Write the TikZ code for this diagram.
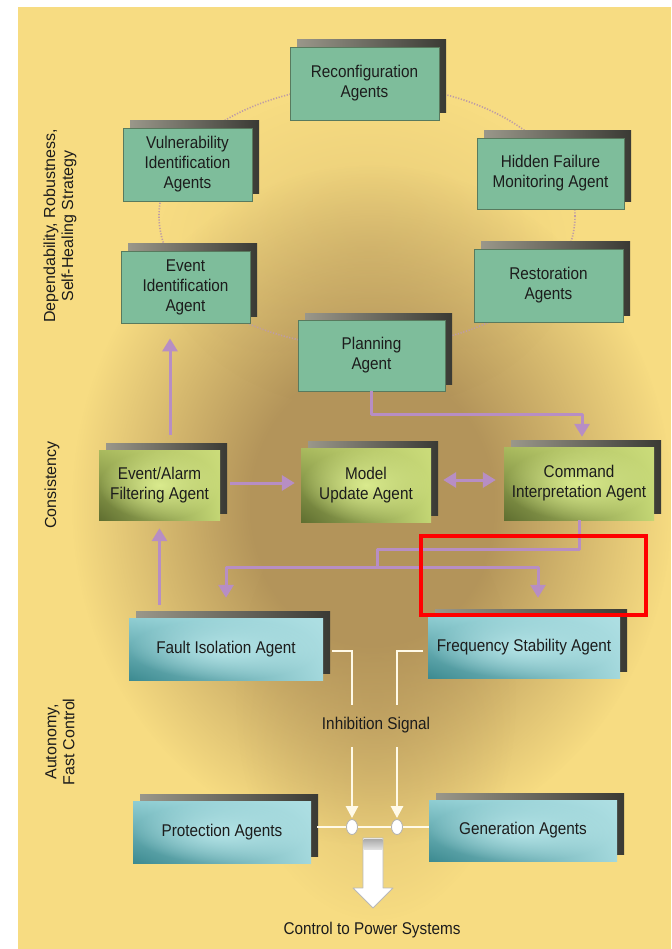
\documentclass[tikz,border=0pt]{standalone}
\usepackage{fontspec}
\setmainfont{Liberation Sans}
\newfontfamily\boxfont{Liberation Sans}[FakeStretch=0.9]
\usetikzlibrary{arrows.meta,calc,shadows,shadings,fadings,shapes.geometric}

\tikzfading[name=glowfade, inner color=transparent!0, outer color=transparent!100]
% radial fading with an opaque core that fades out towards the rim
\pgfdeclareradialshading{plateaushade}{\pgfpoint{0bp}{0bp}}{%
  color(0bp)=(white); color(10bp)=(white); color(25bp)=(black); color(50bp)=(black)}
\pgfdeclarefading{plateau}{\pgfuseshading{plateaushade}}

\definecolor{bglight}{HTML}{F7DC82}
\definecolor{bgdark}{HTML}{B3945A}
\definecolor{tealfill}{HTML}{7EBD9B}
\definecolor{tealedge}{HTML}{587A5E}
\definecolor{limeUL}{HTML}{A9BA5E}
\definecolor{limeUR}{HTML}{CBDC7A}
\definecolor{limeLL}{HTML}{5F6E30}
\definecolor{limeLR}{HTML}{C3D674}
\definecolor{limeglow}{HTML}{DAEB8E}
\definecolor{cyanUL}{HTML}{8FCDD2}
\definecolor{cyanUR}{HTML}{AEDFE3}
\definecolor{cyanLL}{HTML}{3C8A90}
\definecolor{cyanLR}{HTML}{A3D8DC}
\definecolor{cyanglow}{HTML}{B5E4E7}
\definecolor{shadeL}{HTML}{9A978A}
\definecolor{shadeR}{HTML}{3A3A34}
\definecolor{lilac}{HTML}{B78EC4}
\definecolor{ringdot}{HTML}{BE9CA6}
\definecolor{wire}{HTML}{FFFAE8}
\definecolor{txt}{HTML}{1C1C1C}

\tikzset{
  agent/.style={inner sep=0pt, align=center, text=txt,
    font=\boxfont\fontsize{17}{20}\selectfont},
  backshadow/.style={general shadow={shadow xshift=7pt, shadow yshift=7pt,
    left color=shadeL, right color=shadeR}},
  tealbox/.style={agent, backshadow, fill=tealfill, draw=tealedge, line width=0.8pt},
  limebox/.style={agent, backshadow, upper left=limeUL, upper right=limeUR,
    lower left=limeLL, lower right=limeLR,
    postaction={fill=limeglow, path fading=glowfade}},
  cyanbox/.style={agent, backshadow, upper left=cyanUL, upper right=cyanUR,
    lower left=cyanLL, lower right=cyanLR,
    postaction={fill=cyanglow, path fading=glowfade}},
  lbl/.style={inner sep=0pt, text=txt, font=\boxfont\fontsize{17}{20}\selectfont},
  sidelbl/.style={rotate=90, align=center, inner sep=0pt, text=txt,
    font=\fontsize{16}{18}\selectfont},
  lline/.style={draw=lilac, line width=3pt, line join=round},
  arr/.style={lline, -{Triangle[length=13pt,width=15pt]}},
  darr/.style={lline, {Triangle[length=13pt,width=15pt]}-{Triangle[length=13pt,width=15pt]}},
  wline/.style={draw=wire, line width=2.6pt},
  warr/.style={wline, -{Triangle[length=12pt,width=12pt]}},
  switch/.style={ellipse, draw=gray!60, fill=white, line width=0.8pt,
    minimum width=11pt, minimum height=15pt, inner sep=0pt},
}

\begin{document}
\begin{tikzpicture}[x=1pt,y=-1pt]
\useasboundingbox (0,0) rectangle (671,949);

% backdrop: light yellow with a darker golden core
\fill[white] (0,0) rectangle (671,949);
\fill[bglight] (18,7) rectangle (671,949);
\begin{scope}
  \clip (18,7) rectangle (671,949);
  \fill[bgdark, path fading=plateau] (372,505) ellipse [x radius=300, y radius=340];
  \fill[bgdark, opacity=.5, path fading=glowfade] (376,700) ellipse [x radius=140, y radius=220];
  \fill[bgdark, opacity=.25, path fading=glowfade] (367,250) ellipse [x radius=210, y radius=160];
\end{scope}

% ring linking the self-healing agents
\draw[ringdot, line width=1.6pt, dash pattern=on 1.2pt off 1.6pt]
  (367,216) ellipse [x radius=208, y radius=131];

% self-healing ring
\node[tealbox, minimum width=149pt, minimum height=73pt] (reconf) at (364.5,83.5) {Reconfiguration\\Agents};
\node[tealbox, minimum width=129pt, minimum height=73pt] (vuln) at (187.5,164.5) {Vulnerability\\Identification\\Agents};
\node[tealbox, minimum width=129pt, minimum height=72pt] (evid) at (185.5,287) {Event\\Identification\\Agent};
\node[tealbox, minimum width=147pt, minimum height=71pt] (hidden) at (550.5,173.5) {Hidden Failure\\Monitoring Agent};
\node[tealbox, minimum width=149pt, minimum height=73pt] (resto) at (548.5,285.5) {Restoration\\Agents};
\node[tealbox, minimum width=147pt, minimum height=71pt] (plan) at (371.5,355.5) {Planning\\Agent};

% consistency layer
\node[limebox, minimum width=121pt, minimum height=70pt] (filter) at (159.5,485) {Event/Alarm\\Filtering Agent};
\node[limebox, minimum width=130pt, minimum height=74pt] (model) at (366,485) {Model\\Update Agent};
\node[limebox, minimum width=150pt, minimum height=73pt] (cmd) at (579,483.5) {Command\\Interpretation Agent};

% fast control layer
\node[cyanbox, minimum width=194pt, minimum height=62pt] (fault) at (226,649) {Fault Isolation Agent};
\node[cyanbox, minimum width=192pt, minimum height=62pt] (freq) at (524,647) {Frequency Stability Agent};
\node[cyanbox, minimum width=178pt, minimum height=62pt] (prot) at (222,832) {Protection Agents};
\node[cyanbox, minimum width=188pt, minimum height=61pt] (gen) at (523,830.5) {Generation Agents};

% layer captions
\node[sidelbl] (capA) at (60,226) {Dependability, Robustness,\\Self-Healing Strategy};
\node[sidelbl] (capB) at (52,485) {Consistency};
\node[sidelbl] (capC) at (60,742) {Autonomy,\\Fast Control};

% lilac information flow
\draw[arr, shorten <=15pt, shorten >=15pt] ([xshift=10.5pt]filter.north) -- ([xshift=10.5pt]filter.north |- evid.south);
\draw[arr, shorten <=13pt, shorten >=8pt] (fault.north -| filter.south) -- (filter.south);
\draw[arr, shorten <=10pt, shorten >=6pt] ([yshift=2pt]filter.east) -- ([yshift=2pt]filter.east -| model.west);
\draw[darr, shorten <=12pt, shorten >=8pt] ([yshift=5pt]model.east) -- ([yshift=5pt]model.east -| cmd.west);
\draw[arr, shorten >=10pt] (plan.south) -- ++(0,23) -| ([xshift=3pt]cmd.north);
\coordinate (split) at (377,567);
\draw[lline] (cmd.south) -- ++(0,29) -| (split);
\draw[arr, shorten >=20pt] (split) -| (fault.north);
\draw[arr, shorten >=18pt] (split) -| ([xshift=14pt]freq.north);

% inhibition signals and switches
\node[lbl] (inh) at (376,725) {Inhibition Signal};
\node[switch] (sw1) at (352,827) {};
\node[switch] (sw2) at (397,827) {};
\draw[wline, shorten <=9pt, shorten >=12pt] ([yshift=-2pt]fault.east) -| (inh.north -| sw1);
\draw[wline, shorten <=5pt, shorten >=12pt] ([yshift=-4pt]freq.west) -| (inh.north -| sw2);
\draw[warr, shorten <=14pt, shorten >=1pt] (inh.south -| sw1) -- (sw1.north);
\draw[warr, shorten <=14pt, shorten >=1pt] (inh.south -| sw2) -- (sw2.north);
\draw[wline, shorten <=6pt] (prot.east |- sw1) -- (sw1.west);
\draw[wline] (sw1.east) -- (sw2.west);
\draw[wline] (sw2.east) -- (sw2 -| gen.west);

% output arrow to the power system
\coordinate (outtop) at (373,838);
\draw[fill=white, draw=gray!55, line width=0.8pt, line join=round]
  (outtop) ++(-10,0) -- ++(20,0) -- ++(0,50) -- ++(10,0) -- ++(-20,20)
  -- ++(-20,-20) -- ++(10,0) -- cycle;
\shade[top color=gray!70, bottom color=gray!25] (outtop) ++(-9.5,1) rectangle ++(19,10);
\node[lbl] (ctrl) at (372,930) {Control to Power Systems};

% highlight frame
\draw[red, line width=4pt] (421,536) rectangle (646,615);
\end{tikzpicture}
\end{document}
